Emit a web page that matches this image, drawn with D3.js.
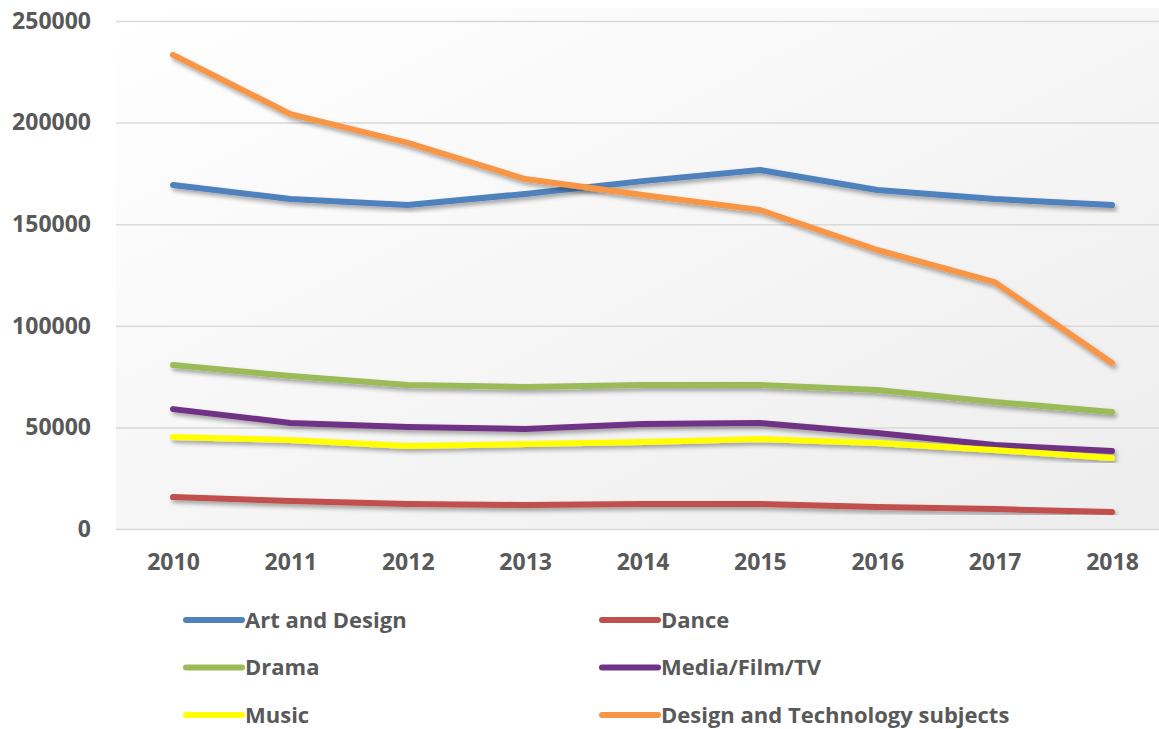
<!DOCTYPE html>
<html>
<head>
<meta charset="utf-8">
<script src="https://cdnjs.cloudflare.com/ajax/libs/d3/7.8.5/d3.min.js"></script>
<style>
  body { margin: 0; background: #fff; }
  .container { width: 1159px; height: 729px; }
  text { font-family: "Open Sans", sans-serif; fill: #595959; }
</style>
</head>
<body>
<div class="container"></div>
<script>
const years = ["2010", "2011", "2012", "2013", "2014", "2015", "2016", "2017", "2018"]
const yTicks = [0, 50000, 100000, 150000, 200000, 250000]

const artDesign = [169300, 162400, 159400, 164900, 171200, 176700, 166800, 162400, 159400]
const dance = [15700, 13800, 12300, 11800, 12300, 12300, 10800, 9800, 8400]
const drama = [80700, 75300, 70900, 69900, 70900, 70900, 68400, 62500, 57600]
const media = [59000, 52200, 50200, 49200, 51700, 52200, 47200, 41300, 38400]
const music = [45300, 43800, 40800, 41800, 42800, 44300, 42300, 38900, 34900]
const designTech = [233300, 204200, 190000, 172200, 164400, 157000, 137300, 121500, 81700]

const seriesNames = ["Art and Design", "Dance", "Drama", "Media/Film/TV", "Music", "Design and Technology subjects"]
const seriesValues = [artDesign, dance, drama, media, music, designTech]
const colors = ["#4f81bd", "#c0504d", "#9bbb59", "#6f3385", "#ffff00", "#f79646"]

const w = 1159
const h = 729
const plotLeft = 116
const plotTop = 21
const plotBottom = 529

const xScale = d3.scalePoint()
                 .domain(years)
                 .range([173, 1112])
const yScale = d3.scaleLinear()
                 .domain([0, 250000])
                 .range([plotBottom, plotTop])

const svg = d3.select(".container")
              .append("svg")
              .attr("width", w)
              .attr("height", h)

const defs = svg.append("defs")
const grad = defs.append("linearGradient")
                 .attr("id", "bg")
                 .attr("x1", "0").attr("y1", "0")
                 .attr("x2", "1").attr("y2", "1")
grad.append("stop").attr("offset", "0").attr("stop-color", "#ffffff")
grad.append("stop").attr("offset", "1").attr("stop-color", "#ededed")

defs.append("filter")
    .attr("id", "shadow")
    .attr("x", "-5%").attr("y", "-20%")
    .attr("width", "110%").attr("height", "140%")
    .append("feDropShadow")
    .attr("dx", 2).attr("dy", 3)
    .attr("stdDeviation", 2)
    .attr("flood-color", "#000")
    .attr("flood-opacity", 0.35)

// plot area background
svg.append("rect")
   .attr("x", plotLeft)
   .attr("y", 8)
   .attr("width", w - plotLeft)
   .attr("height", plotBottom - 8)
   .attr("fill", "url(#bg)")

// gridlines and y labels
const yAxis = d3.axisLeft(yScale)
                .tickValues(yTicks)
                .tickSize(-(w - plotLeft))
                .tickPadding(25)
                .tickFormat(d3.format("d"))

svg.append("g")
   .attr("id", "y-axis")
   .attr("transform", `translate(${plotLeft}, 0)`)
   .call(yAxis)
   .call(g => g.select(".domain").remove())
   .call(g => g.selectAll("line").attr("stroke", "#d9d9d9").attr("stroke-width", 1.5))
   .call(g => g.selectAll("text")
               .attr("font-size", 23)
               .attr("font-weight", 700)
               .attr("font-family", "Open Sans, sans-serif")
               .attr("fill", "#595959"))

// x labels
const xAxis = d3.axisBottom(xScale)
                .tickSize(0)
                .tickPadding(25)

svg.append("g")
   .attr("id", "x-axis")
   .attr("transform", `translate(0, ${plotBottom})`)
   .call(xAxis)
   .call(g => g.select(".domain").remove())
   .call(g => g.selectAll("text")
               .attr("font-size", 23)
               .attr("font-weight", 700)
               .attr("font-family", "Open Sans, sans-serif")
               .attr("fill", "#595959"))

const line = d3.line()
               .x((d, i) => xScale(years[i]))
               .y(d => yScale(d))

svg.selectAll(".series")
   .data(seriesValues)
   .enter()
   .append("path")
   .attr("class", "series")
   .attr("d", d => line(d))
   .attr("fill", "none")
   .attr("stroke", (d, i) => colors[i])
   .attr("stroke-width", 6)
   .attr("stroke-linecap", "round")
   .attr("stroke-linejoin", "round")
   .attr("filter", "url(#shadow)")

// legend, two columns by three rows
const legend = svg.append("g")
                  .selectAll("g")
                  .data(seriesNames)
                  .enter()
                  .append("g")
                  .attr("transform", (d, i) => `translate(${i % 2 === 0 ? 186 : 602}, ${620 + Math.floor(i / 2) * 47.5})`)

legend.append("line")
      .attr("x1", 0).attr("x2", 56)
      .attr("y1", 0).attr("y2", 0)
      .attr("stroke", (d, i) => colors[i])
      .attr("stroke-width", 6)
      .attr("stroke-linecap", "round")

legend.append("text")
      .attr("x", 59)
      .attr("y", 0)
      .attr("dy", "0.35em")
      .attr("font-size", 22)
      .attr("font-weight", 700)
      .text(d => d)
</script>
</body>
</html>
